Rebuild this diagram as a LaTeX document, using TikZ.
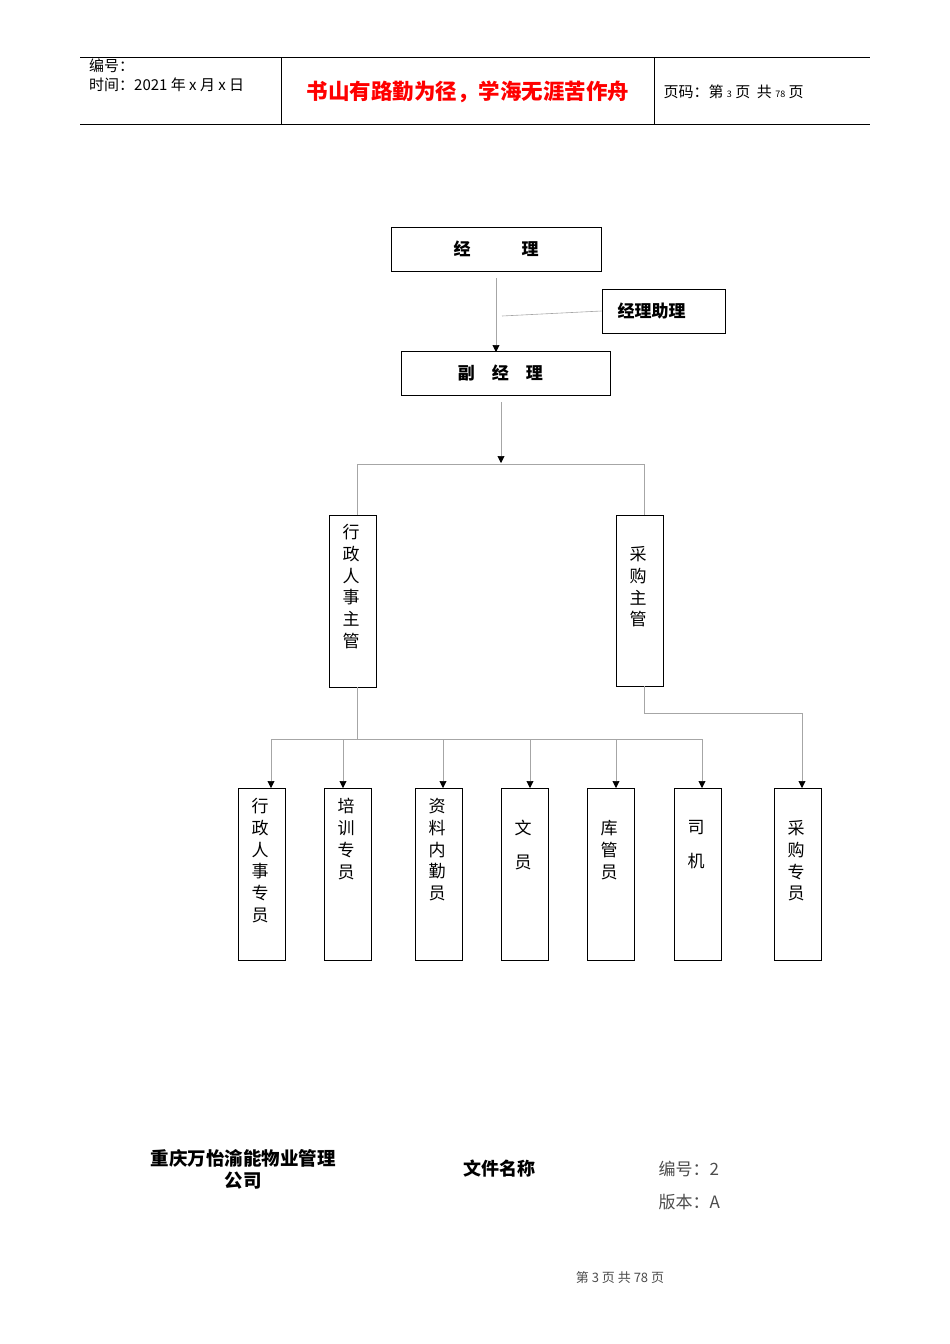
\documentclass[tikz,border=0pt]{standalone}
\usepackage{fontspec}
\setmainfont{Noto Sans CJK SC}
\usetikzlibrary{arrows.meta}
\begin{document}
\begin{tikzpicture}[x=1pt,y=-1pt,
  box/.style={draw,line width=0.9pt,inner sep=0pt},
  conn/.style={draw=black!35,line width=0.6pt},
  arr/.style={conn,-{Triangle[length=7pt,width=7pt,fill=black,color=black]}},
  vt/.style={align=center,font=\fontsize{17}{21.7}\selectfont}]
\useasboundingbox (0,0) rectangle (950,1344);
% header
\draw[line width=0.6pt] (80,57) -- (870,57) (80,124) -- (870,124) (281,57) -- (281,124) (654,57) -- (654,124);
\node[anchor=north west,align=left,inner sep=0pt,font=\fontsize{15}{19}\selectfont] (h1) at (89,59) {编号：\\时间：2021 年 x 月 x 日};
\node[text=red,font=\fontsize{21.5}{24}\selectfont\bfseries] (h2) at (468,92) {书山有路勤为径，学海无涯苦作舟};
\node[anchor=west,font=\fontsize{15}{17}\selectfont] (h3) at (660,92) {页码：第 {\small 3} 页\ \ 共 {\small 78} 页};
% boxes
\node[box,minimum width=210pt,minimum height=44pt,font=\fontsize{17}{19}\selectfont\bfseries] (jl) at (496,249) {经\hspace{3em}理};
\node[box,minimum width=123pt,minimum height=44pt,font=\fontsize{17}{19}\selectfont\bfseries] (zl) at (663.5,311) {\hspace*{-1.4em}经理助理};
\node[box,minimum width=209pt,minimum height=44pt,font=\fontsize{17}{19}\selectfont\bfseries] (fj) at (505.5,373) {\hspace*{-0.6em}副\hspace{1em}经\hspace{1em}理};
\coordinate (a1) at (496,278);
\draw[arr] (a1) -- (496,352);
\coordinate (a2) at (502,316);
\draw[conn] (a2) -- (zl.west);
\coordinate (a3) at (501,402);
\draw[arr] (a3) -- (501,463);
\node[box,minimum width=47pt,minimum height=172pt,anchor=north] (xz) at (352.5,515) {};
\node[vt,anchor=north] at (351,521) {行\\政\\人\\事\\主\\管};
\node[box,minimum width=47pt,minimum height=171pt,anchor=north] (cg) at (639.5,515) {};
\node[vt,anchor=north] at (638,543) {采\\购\\主\\管};
\draw[conn] (357,515) -- (357,464) -- (644,464) -- (644,515);
% bottom boxes
\foreach \n/\x/\tx/\t/\ty in {b1/261.5/260/{行\\政\\人\\事\\专\\员}/795, b2/347.5/346/{培\\训\\专\\员}/795, b3/438.5/437/{资\\料\\内\\勤\\员}/795, b4/524.5/523/{文\\[0.7em]员}/817, b5/610.5/609/{库\\管\\员}/817, b6/697.5/696/{司\\[0.7em]机}/817, b7/798/796/{采\\购\\专\\员}/817}{
  \node[box,minimum width=47pt,minimum height=172pt,anchor=north] (\n) at (\x,788) {};
  \node[vt,anchor=north] at (\tx,\ty) {\t};
}
\draw[conn] (357,687) -- (357,739);
\draw[conn] (271,739) -- (702,739);
\foreach \x in {271,343,443,530,616,702}{\draw[arr] (\x,739) -- (\x,788);}
\draw[arr] (644,686) -- (644,713) -- (802,713) -- (802,788);
% footer
\node[align=center,font=\fontsize{18.5}{22}\selectfont\bfseries] (f1) at (243,1169) {重庆万怡渝能物业管理\\公司};
\node[font=\fontsize{18}{20}\selectfont\bfseries] (f2) at (499,1169) {文件名称};
\node[anchor=west,align=left,text=black!70,font=\fontsize{17}{33}\selectfont] (f3) at (655,1186) {编号：2\\版本：A};
\node[text=black!70,font=\fontsize{13}{14}\selectfont] (f4) at (620,1278) {第 3 页 共 78 页};
\end{tikzpicture}
\end{document}
